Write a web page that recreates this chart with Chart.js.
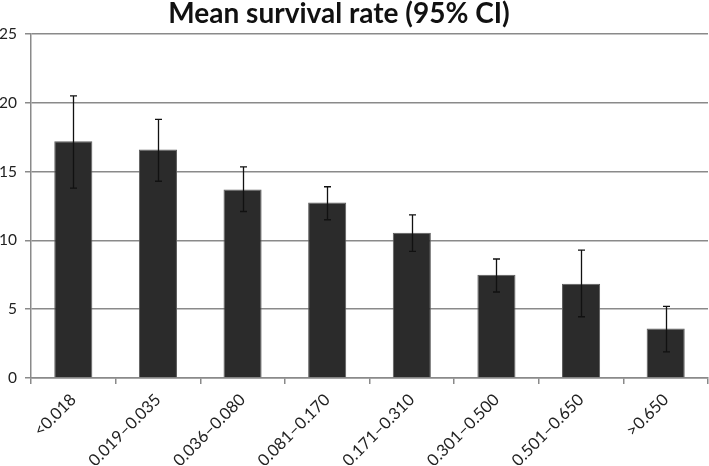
<!DOCTYPE html>
<html>
<head>
<meta charset="utf-8">
<script src="https://cdn.jsdelivr.net/npm/chart.js@4/dist/chart.umd.min.js"></script>
<style>
  html, body { margin: 0; padding: 0; background: #fff; }
  #wrap { width: 709px; height: 466px; }
</style>
</head>
<body>
<div id="wrap"><canvas id="survivalChart" width="709" height="466"></canvas></div>
<script>
// Data
const categories = ['<0.018', '0.019\u20130.035', '0.036\u20130.080', '0.081\u20130.170',
                    '0.171\u20130.310', '0.301\u20130.500', '0.501\u20130.650', '>0.650'];
const meanRate = [17.2, 16.6, 13.7, 12.75, 10.55, 7.5, 6.85, 3.6];
const ciLower = [13.8, 14.3, 12.1, 11.5, 9.2, 6.25, 4.45, 1.9];
const ciUpper = [20.5, 18.8, 15.35, 13.9, 11.85, 8.65, 9.3, 5.2];
const yTicks = [0, 5, 10, 15, 20, 25];

const fontFamily = 'Lato, "Open Sans", sans-serif';

// Draws the 95% CI whiskers on top of the bars
const errorBarPlugin = {
    id: 'errorBars',
    afterLayout(chart) {
        // the original title sits a little left of the canvas centre
        if (chart.titleBlock) {
            chart.titleBlock.left = 0;
            chart.titleBlock.right = 678;
        }
    },
    afterDatasetsDraw(chart) {
        const ctx = chart.ctx;
        const yScale = chart.scales.y;
        const meta = chart.getDatasetMeta(0);
        ctx.save();
        ctx.strokeStyle = '#111';
        ctx.lineWidth = 1.3;
        meta.data.forEach((bar, i) => {
            const x = Math.round(bar.x) + 0.5;
            const yTop = yScale.getPixelForValue(ciUpper[i]);
            const yBot = yScale.getPixelForValue(ciLower[i]);
            const cap = 3.5;
            ctx.beginPath();
            ctx.moveTo(x, yTop);
            ctx.lineTo(x, yBot);
            ctx.moveTo(x - cap, yTop);
            ctx.lineTo(x + cap, yTop);
            ctx.moveTo(x - cap, yBot);
            ctx.lineTo(x + cap, yBot);
            ctx.stroke();
        });
        ctx.restore();
    }
};

new Chart(document.getElementById('survivalChart'), {
    type: 'bar',
    data: {
        labels: categories,
        datasets: [{
            label: 'Mean survival rate',
            data: meanRate,
            backgroundColor: '#2b2b2b',
            borderColor: '#5c5c5c',
            borderWidth: 1,
            barPercentage: 0.45,
            categoryPercentage: 1.0
        }]
    },
    options: {
        responsive: false,
        animation: false,
        layout: { padding: { left: 0, right: 1, top: 0, bottom: 0 } },
        plugins: {
            legend: { display: false },
            tooltip: { enabled: false },
            title: {
                display: true,
                text: 'Mean survival rate (95% CI)',
                color: '#111',
                font: { family: fontFamily, size: 28, weight: 'bold', lineHeight: 1.0 },
                padding: { top: 0, bottom: 6 }
            }
        },
        scales: {
            x: {
                offset: true,
                grid: {
                    offset: true,
                    drawOnChartArea: false,
                    drawTicks: true,
                    tickLength: 6,
                    color: '#8a8a8a',
                    lineWidth: 1.5
                },
                border: { color: '#8a8a8a', width: 1.5 },
                ticks: {
                    minRotation: 45,
                    maxRotation: 45,
                    autoSkip: false,
                    padding: 6,
                    color: '#222',
                    font: { family: fontFamily, size: 16.5 }
                },
                afterFit(scale) { scale.height = 88; }
            },
            y: {
                min: 0,
                max: 25,
                afterBuildTicks(scale) { scale.ticks = yTicks.map(v => ({ value: v })); },
                grid: {
                    color: '#8a8a8a',
                    lineWidth: 1.5,
                    tickLength: 6
                },
                border: { color: '#8a8a8a', width: 1.5 },
                ticks: {
                    padding: 8,
                    color: '#222',
                    font: { family: fontFamily, size: 15.5 }
                },
                afterFit(scale) { scale.width = 31; }
            }
        }
    },
    plugins: [errorBarPlugin]
});
</script>
</body>
</html>
